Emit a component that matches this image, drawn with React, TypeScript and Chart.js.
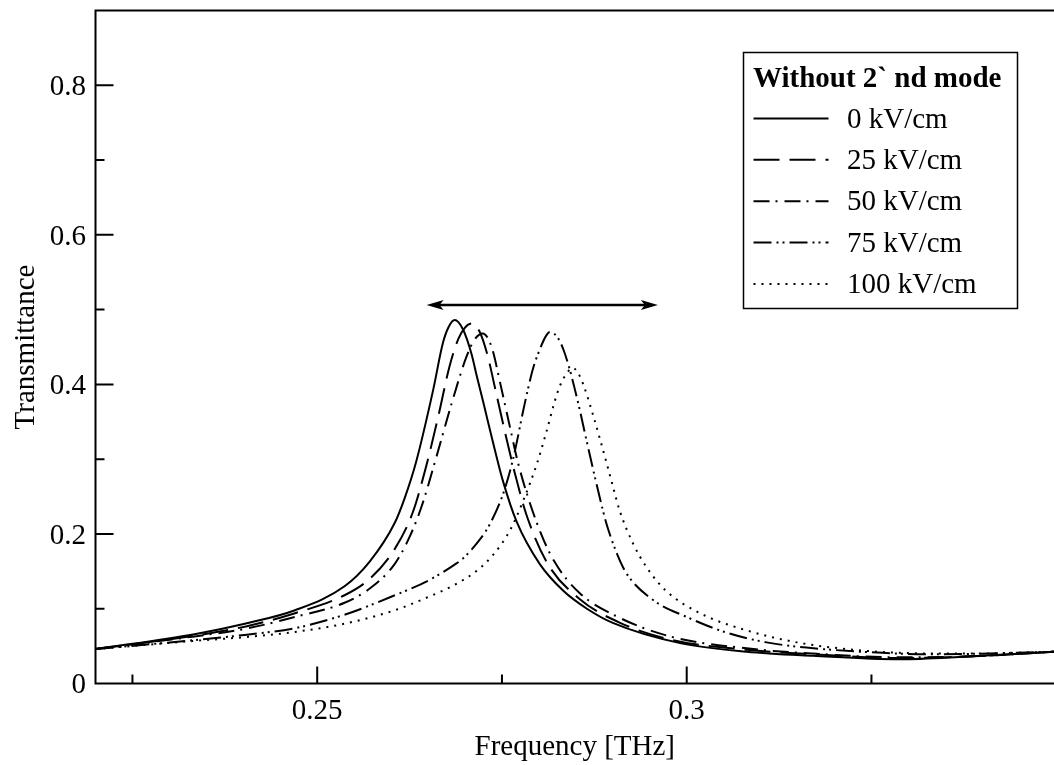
import React, { useEffect, useRef } from "react";
import { Chart, registerables } from "chart.js";

Chart.register(...registerables);

// ---------- data ----------
const SERIES_LABELS = ["0 kV/cm", "25 kV/cm", "50 kV/cm", "75 kV/cm", "100 kV/cm"];
const LEGEND_TITLE = "Without 2` nd mode";
const X_TITLE = "Frequency [THz]";
const Y_TITLE = "Transmittance";

const FREQ_0 = [0.22, 0.2334, 0.2402, 0.247, 0.2537, 0.2571, 0.2605, 0.2618, 0.2634, 0.2657, 0.267, 0.2678, 0.2686, 0.2697, 0.2709, 0.2715, 0.2725, 0.2738, 0.2751, 0.277, 0.2801, 0.2833, 0.2865, 0.29, 0.2991, 0.3081, 0.3171, 0.3288, 0.3379, 0.3497];
const TRANS_0 = [0.046, 0.066, 0.08, 0.098, 0.13, 0.163, 0.215, 0.247, 0.297, 0.393, 0.455, 0.477, 0.486, 0.474, 0.44, 0.415, 0.375, 0.322, 0.272, 0.216, 0.16, 0.124, 0.1, 0.081, 0.054, 0.0425, 0.037, 0.0323, 0.036, 0.0425];

const FREQ_25 = [0.22, 0.2334, 0.2402, 0.247, 0.2537, 0.2571, 0.2605, 0.2629, 0.2646, 0.2664, 0.2679, 0.2691, 0.27, 0.2709, 0.272, 0.2731, 0.274, 0.2756, 0.2767, 0.2783, 0.2812, 0.2855, 0.2909, 0.2981, 0.3081, 0.3171, 0.3288, 0.3379, 0.3497];
const TRANS_25 = [0.046, 0.064, 0.076, 0.094, 0.118, 0.14, 0.18, 0.228, 0.285, 0.358, 0.424, 0.461, 0.476, 0.4815, 0.47, 0.437, 0.398, 0.328, 0.283, 0.226, 0.16, 0.113, 0.0815, 0.058, 0.045, 0.039, 0.034, 0.036, 0.0425];

const FREQ_50 = [0.22, 0.2334, 0.2402, 0.247, 0.2537, 0.2571, 0.2605, 0.2625, 0.2641, 0.2661, 0.2682, 0.2702, 0.2713, 0.2724, 0.2736, 0.2748, 0.2761, 0.2772, 0.2799, 0.2821, 0.2855, 0.2909, 0.2981, 0.3081, 0.3171, 0.3288, 0.3379, 0.3497];
const TRANS_50 = [0.046, 0.063, 0.073, 0.089, 0.108, 0.127, 0.16, 0.196, 0.236, 0.302, 0.375, 0.437, 0.46, 0.468, 0.45, 0.4, 0.342, 0.294, 0.21, 0.163, 0.121, 0.088, 0.062, 0.047, 0.04, 0.035, 0.036, 0.0425];

const FREQ_75 = [0.22, 0.2334, 0.2402, 0.247, 0.2537, 0.2605, 0.2651, 0.2686, 0.2697, 0.2722, 0.2733, 0.2751, 0.2765, 0.2779, 0.2785, 0.2792, 0.2806, 0.2811, 0.2815, 0.2825, 0.2833, 0.2842, 0.2848, 0.2855, 0.2864, 0.2876, 0.2887, 0.2891, 0.2905, 0.2918, 0.2954, 0.3, 0.3054, 0.3108, 0.3162, 0.3265, 0.3333, 0.3497];
const TRANS_75 = [0.046, 0.058, 0.065, 0.074, 0.092, 0.118, 0.138, 0.159, 0.167, 0.195, 0.212, 0.252, 0.3, 0.366, 0.393, 0.421, 0.458, 0.467, 0.47, 0.463, 0.447, 0.419, 0.396, 0.367, 0.327, 0.275, 0.23, 0.215, 0.175, 0.148, 0.112, 0.089, 0.068, 0.055, 0.048, 0.041, 0.039, 0.0425];

const FREQ_100 = [0.22, 0.2334, 0.2402, 0.247, 0.2537, 0.2605, 0.2651, 0.2686, 0.2715, 0.2738, 0.2761, 0.2779, 0.2797, 0.281, 0.2821, 0.2828, 0.2837, 0.2846, 0.2853, 0.286, 0.2873, 0.2882, 0.2891, 0.29, 0.2909, 0.2927, 0.2946, 0.2972, 0.3018, 0.3081, 0.3149, 0.3207, 0.3288, 0.3379, 0.3497];
const TRANS_100 = [0.046, 0.057, 0.062, 0.069, 0.08, 0.098, 0.116, 0.132, 0.15, 0.172, 0.205, 0.245, 0.293, 0.336, 0.376, 0.397, 0.414, 0.422, 0.415, 0.4, 0.36, 0.329, 0.297, 0.264, 0.232, 0.188, 0.155, 0.124, 0.094, 0.071, 0.055, 0.047, 0.041, 0.04, 0.0425];

const X_MAJOR = [0.25, 0.3];
const X_MAJOR_LABELS = ["0.25", "0.3"];
const X_MINOR = [0.225, 0.275, 0.325];
const Y_MAJOR = [0, 0.2, 0.4, 0.6, 0.8];
const Y_MAJOR_LABELS = ["0", "0.2", "0.4", "0.6", "0.8"];
const Y_MINOR = [0.1, 0.3, 0.5, 0.7];

const X_MIN = 0.22;
const X_MAX = 0.3497;
const Y_MIN = 0;
const Y_MAX = 0.9;

const ARROW_FREQ_FROM = 0.2648;
const ARROW_FREQ_TO = 0.2961;
const ARROW_TRANS = 0.506;

// ---------- styles ----------
const FONT = "'Liberation Serif', 'Times New Roman', Times, serif";
const FONT_SIZE = 29;
const DASHES = [[], [26, 10], [16, 6, 2, 7], [18, 5, 2, 4, 2, 5], [2, 6]];

const toPoints = (xs: number[], ys: number[]) => xs.map((x, i) => ({ x, y: ys[i] }));

const axesPlugin = {
  id: "customAxes",
  afterDraw(chart: any) {
    const { ctx, chartArea: a, scales } = chart;
    const x = scales.x;
    const y = scales.y;
    ctx.save();
    ctx.strokeStyle = "#000";
    ctx.fillStyle = "#000";
    ctx.setLineDash([]);
    ctx.lineWidth = 2;
    ctx.beginPath();
    ctx.moveTo(a.left, a.top);
    ctx.lineTo(a.left, a.bottom);
    ctx.lineTo(a.right + 2, a.bottom);
    ctx.moveTo(a.left - 1, a.top);
    ctx.lineTo(a.right + 2, a.top);
    ctx.stroke();

    // ticks (inward)
    ctx.beginPath();
    X_MAJOR.forEach((v) => {
      const px = x.getPixelForValue(v);
      ctx.moveTo(px, a.bottom);
      ctx.lineTo(px, a.bottom - 17);
    });
    X_MINOR.forEach((v) => {
      const px = x.getPixelForValue(v);
      ctx.moveTo(px, a.bottom);
      ctx.lineTo(px, a.bottom - 9);
    });
    Y_MAJOR.forEach((v) => {
      if (v === Y_MIN) return;
      const py = y.getPixelForValue(v);
      ctx.moveTo(a.left, py);
      ctx.lineTo(a.left + 18, py);
    });
    Y_MINOR.forEach((v) => {
      const py = y.getPixelForValue(v);
      ctx.moveTo(a.left, py);
      ctx.lineTo(a.left + 9, py);
    });
    ctx.stroke();

    // tick labels
    ctx.font = `${FONT_SIZE}px ${FONT}`;
    ctx.textBaseline = "alphabetic";
    ctx.textAlign = "center";
    X_MAJOR.forEach((v, i) => {
      ctx.fillText(X_MAJOR_LABELS[i], x.getPixelForValue(v), a.bottom + 35.5);
    });
    ctx.textAlign = "right";
    Y_MAJOR.forEach((v, i) => {
      ctx.fillText(Y_MAJOR_LABELS[i], a.left - 9.5, y.getPixelForValue(v) + 9.8);
    });

    // axis titles
    ctx.textAlign = "center";
    ctx.fillText(X_TITLE, (a.left + a.right) / 2, a.bottom + 71);
    ctx.save();
    ctx.translate(33.5, (a.top + a.bottom) / 2);
    ctx.rotate(-Math.PI / 2);
    ctx.fillText(Y_TITLE, 0, 0);
    ctx.restore();

    // arrow
    const ax1 = x.getPixelForValue(ARROW_FREQ_FROM);
    const ax2 = x.getPixelForValue(ARROW_FREQ_TO);
    const ay = y.getPixelForValue(ARROW_TRANS);
    ctx.lineWidth = 2.5;
    ctx.beginPath();
    ctx.moveTo(ax1 + 8, ay);
    ctx.lineTo(ax2 - 8, ay);
    ctx.stroke();
    const head = (tip: number, dir: number) => {
      ctx.beginPath();
      ctx.moveTo(tip, ay);
      ctx.lineTo(tip + dir * 17, ay - 5);
      ctx.lineTo(tip + dir * 13, ay);
      ctx.lineTo(tip + dir * 17, ay + 5);
      ctx.closePath();
      ctx.fill();
    };
    head(ax1, 1);
    head(ax2, -1);

    // legend
    const bx = 743.5, by = 52.5, bw = 274, bh = 256;
    ctx.lineWidth = 1.5;
    ctx.fillStyle = "#fff";
    ctx.fillRect(bx, by, bw, bh);
    ctx.strokeRect(bx, by, bw, bh);
    ctx.fillStyle = "#000";
    ctx.textAlign = "left";
    ctx.font = `bold ${FONT_SIZE}px ${FONT}`;
    ctx.fillText(LEGEND_TITLE, bx + 9.5, by + 34.3);
    ctx.font = `${FONT_SIZE}px ${FONT}`;
    chart.data.datasets.forEach((ds: any, i: number) => {
      const base = by + 75 + i * 41.35;
      ctx.lineWidth = 2;
      ctx.setLineDash(ds.borderDash || []);
      ctx.beginPath();
      ctx.moveTo(bx + 10, base - 9);
      ctx.lineTo(bx + 85, base - 9);
      ctx.stroke();
      ctx.setLineDash([]);
      ctx.fillText(ds.label, bx + 103.5, base);
    });
    ctx.restore();
  },
};

export default function App() {
  const ref = useRef<HTMLCanvasElement | null>(null);
  useEffect(() => {
    if (!ref.current) return;
    const series = [
      [FREQ_0, TRANS_0],
      [FREQ_25, TRANS_25],
      [FREQ_50, TRANS_50],
      [FREQ_75, TRANS_75],
      [FREQ_100, TRANS_100],
    ];
    const chart = new Chart(ref.current, {
      type: "line",
      data: {
        datasets: series.map((s, i) => ({
          label: SERIES_LABELS[i],
          data: toPoints(s[0], s[1]),
          borderColor: "#000",
          borderWidth: 2,
          borderDash: DASHES[i],
          pointRadius: 0,
          fill: false,
          cubicInterpolationMode: "monotone" as const,
        })),
      },
      options: {
        responsive: false,
        maintainAspectRatio: false,
        devicePixelRatio: 1,
        animation: false,
        layout: { padding: { left: 95.5, right: 0, top: 10.5, bottom: 81.5 } },
        scales: {
          x: { type: "linear", min: X_MIN, max: X_MAX, display: false },
          y: { type: "linear", min: Y_MIN, max: Y_MAX, display: false },
        },
        plugins: { legend: { display: false }, tooltip: { enabled: false } },
        events: [],
      },
      plugins: [axesPlugin],
    });
    return () => chart.destroy();
  }, []);
  return (
    <div style={{ position: "fixed", left: 0, top: 0, width: 1054, height: 765, background: "#fff" }}>
      <canvas ref={ref} width={1054} height={765} style={{ width: 1054, height: 765 }} />
    </div>
  );
}
